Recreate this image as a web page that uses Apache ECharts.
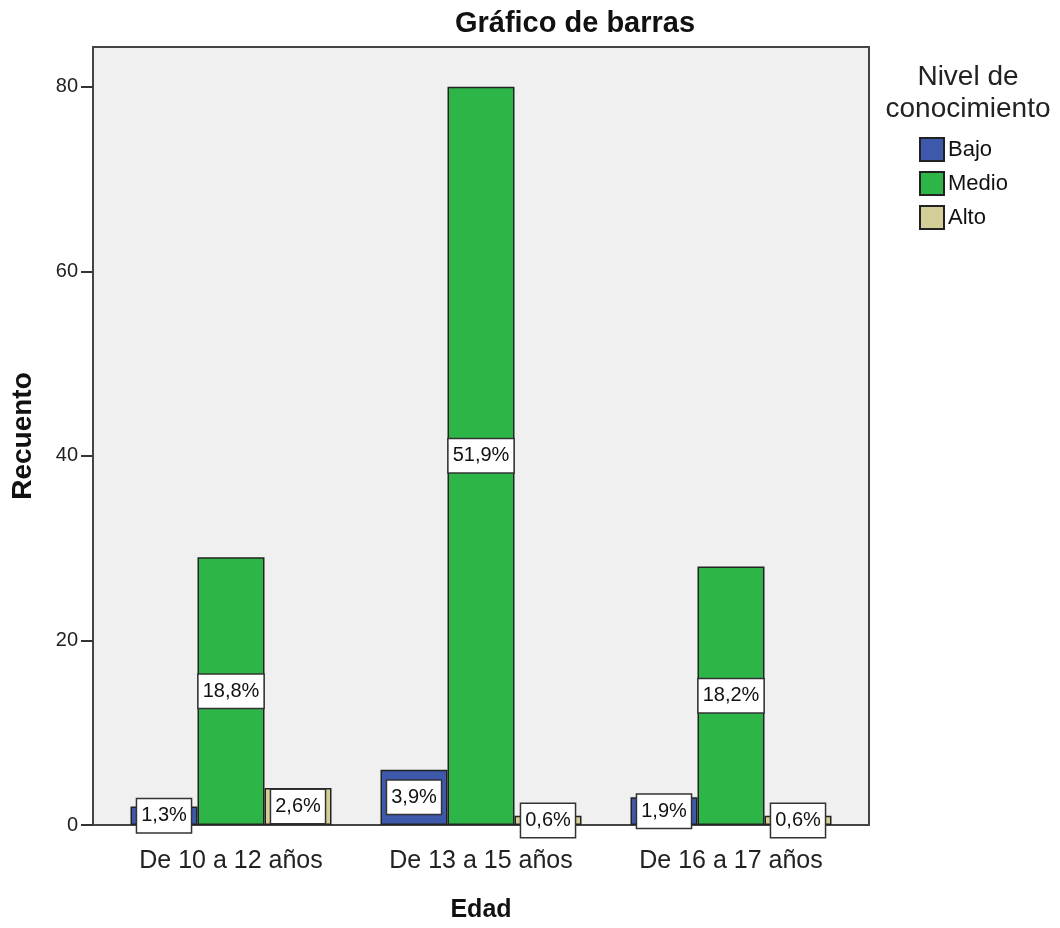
<!DOCTYPE html>
<html>
<head>
<meta charset="utf-8">
<script src="https://cdn.jsdelivr.net/npm/echarts@6/dist/echarts.min.js"></script>
<style>
  html, body { margin: 0; padding: 0; background: #fff; }
  #chart { width: 1060px; height: 928px; }
</style>
</head>
<body>
<div id="chart"></div>
<script>
var categories = ["De 10 a 12 años", "De 13 a 15 años", "De 16 a 17 años"];
var bajo = [2, 6, 3];
var medio = [29, 80, 28];
var alto = [4, 1, 1];
var yTicks = [0, 20, 40, 60, 80];

var total = _sum(bajo) + _sum(medio) + _sum(alto);
function _sum(a) { return a.reduce(function (s, v) { return s + v; }, 0); }

var font = "Liberation Sans, Arial, sans-serif";

function pctLabel(p) {
	return (p.value / total * 100).toFixed(1).replace(".", ",") + "%";
}

var labelStyle = {
	show: true,
	position: "inside",
	formatter: pctLabel,
	color: "#111",
	fontFamily: font,
	fontSize: 20,
	backgroundColor: "#fff",
	borderColor: "#333",
	borderWidth: 1.5,
	padding: [7, 4, 6, 4]
};

function barSeries(name, data, color) {
	return {
		name: name,
		type: "bar",
		xAxisIndex: 1,
		yAxisIndex: 1,
		data: data,
		barWidth: 67,
		barGap: "0%",
		itemStyle: { color: color, borderColor: "#222", borderWidth: 1.5 },
		label: labelStyle
	};
}

var myChart = echarts.init(document.getElementById("chart"));
myChart.setOption({
	animation: false,
	title: [
		{
			text: "Gráfico de barras",
			left: 570, top: 4, textAlign: "center",
			textStyle: { fontFamily: font, fontSize: 29, fontWeight: "bold", color: "#111" }
		},
		{
			text: "Nivel de\nconocimiento",
			left: 963, top: 56, textAlign: "center",
			textStyle: { fontFamily: font, fontSize: 28, fontWeight: "normal", color: "#222", lineHeight: 32 }
		}
	],
	legend: {
		orient: "vertical",
		left: 919, top: 137, padding: 0,
		itemWidth: 24, itemHeight: 23, itemGap: 9,
		icon: "rect",
		textStyle: { fontFamily: font, fontSize: 22, color: "#111", padding: [0, 0, 0, -1] },
		data: ["Bajo", "Medio", "Alto"]
	},
	grid: [
		{ left: 93, top: 47, width: 776, height: 778, show: true, backgroundColor: "#f0f0f0", borderColor: "#444", borderWidth: 2 },
		{ left: 106, top: 47, width: 750, height: 778 }
	],
	xAxis: [
		{ type: "value", gridIndex: 0, show: false, min: 0, max: 1 },
		{
			type: "category", gridIndex: 1, data: categories,
			name: "Edad", nameLocation: "middle", nameGap: 73,
			nameTextStyle: { fontFamily: font, fontSize: 25, fontWeight: "bold", color: "#111" },
			axisLine: { show: false },
			axisTick: { alignWithLabel: true, length: 17, lineStyle: { color: "#333", width: 2 } },
			axisLabel: { margin: 24, fontFamily: font, fontSize: 25, color: "#222" }
		}
	],
	yAxis: [
		{
			type: "value", gridIndex: 0, min: 0, max: 84.3, interval: 20,
			name: "Recuento", nameLocation: "middle", nameGap: 56,
			nameTextStyle: { fontFamily: font, fontSize: 28, fontWeight: "bold", color: "#111" },
			splitLine: { show: false },
			axisLine: { show: false },
			axisTick: { length: 12, lineStyle: { color: "#333", width: 2 } },
			axisLabel: {
				margin: 15, fontFamily: font, fontSize: 20, color: "#222", showMaxLabel: false,
				formatter: function (v) { return yTicks.indexOf(v) >= 0 ? String(v) : ""; }
			}
		},
		{ type: "value", gridIndex: 1, min: 0, max: 84.3, show: false }
	],
	series: [
		barSeries("Bajo", bajo, "#3e58ac"),
		barSeries("Medio", medio, "#2eb548"),
		barSeries("Alto", alto, "#d4cf98")
	]
});
</script>
</body>
</html>
